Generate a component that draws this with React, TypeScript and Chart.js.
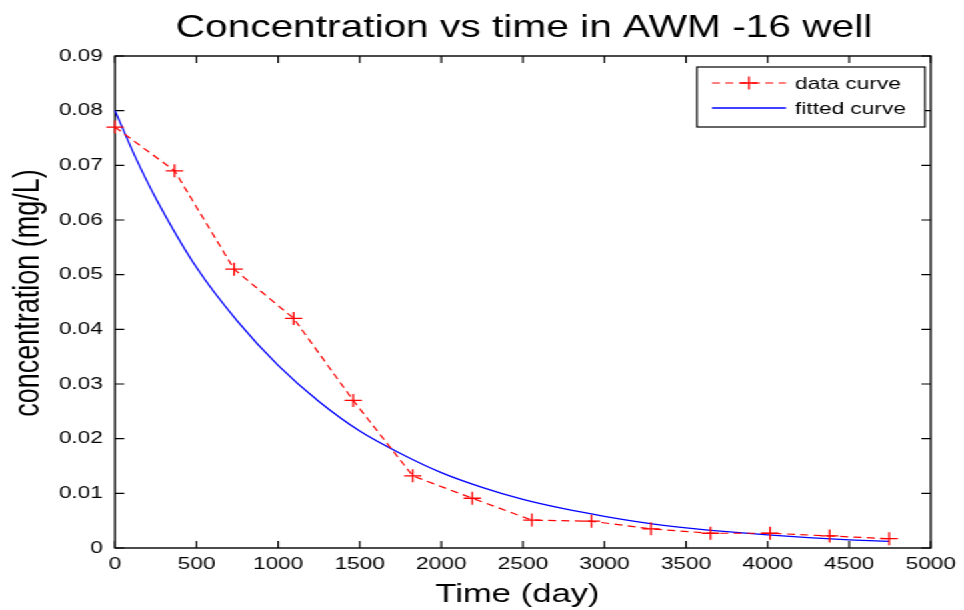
import React, { useEffect, useRef } from 'react';
import { Chart, registerables } from 'chart.js';

Chart.register(...registerables);

// ---------- data ----------
const chartTitle = 'Concentration vs time in AWM -16 well';
const xAxisTitle = 'Time (day)';
const yAxisTitle = 'concentration (mg/L)';
const seriesLabels = ['data curve', 'fitted curve'];

const dataDays = [0, 365, 730, 1095, 1460, 1825, 2190, 2555, 2920, 3285, 3650, 4015, 4380, 4745];
const dataConc = [0.077, 0.069, 0.051, 0.042, 0.027, 0.0132, 0.0091, 0.0051, 0.0049, 0.0035, 0.0027, 0.0027, 0.0022, 0.0017];

const fitDays = [0, 125, 250, 500, 750, 1000, 1250, 1500, 1750, 2000, 2250, 2500, 2750, 3000, 3250, 3500, 3750, 4000, 4250, 4500, 4745];
const fitConc = [0.08, 0.0715, 0.064, 0.0513, 0.0415, 0.0334, 0.0268, 0.0214, 0.0173, 0.0138, 0.0111, 0.0089, 0.0072, 0.0058, 0.0046, 0.0037, 0.003, 0.0024, 0.0019, 0.0015, 0.0012];

const xTickValues = [0, 500, 1000, 1500, 2000, 2500, 3000, 3500, 4000, 4500, 5000];
const yTickValues = [0, 0.01, 0.02, 0.03, 0.04, 0.05, 0.06, 0.07, 0.08, 0.09];
const yTickLabels = ['0', '0.01', '0.02', '0.03', '0.04', '0.05', '0.06', '0.07', '0.08', '0.09'];

// ---------- layout ----------
const W = 723;
const H = 610;
const STRETCH = 964 / W;
const FONT = "'Liberation Sans', Arial, sans-serif";
const RED = '#ff0000';
const BLUE = '#0000ff';

const framePlugin = {
  id: 'matlabFrame',
  beforeDatasetsDraw(chart: any) {
    const { ctx, chartArea: a, scales } = chart;
    ctx.save();
    ctx.strokeStyle = '#000';
    ctx.lineWidth = 1.4;
    ctx.setLineDash([]);
    ctx.strokeRect(a.left, a.top, a.right - a.left, a.bottom - a.top);
    ctx.lineWidth = 1.2;
    ctx.beginPath();
    const tl = 7;
    xTickValues.forEach((v) => {
      const px = scales.x.getPixelForValue(v);
      ctx.moveTo(px, a.bottom);
      ctx.lineTo(px, a.bottom - tl);
      ctx.moveTo(px, a.top);
      ctx.lineTo(px, a.top + tl);
    });
    yTickValues.forEach((v) => {
      const py = scales.y.getPixelForValue(v);
      ctx.moveTo(a.left, py);
      ctx.lineTo(a.left + tl, py);
      ctx.moveTo(a.right, py);
      ctx.lineTo(a.right - tl, py);
    });
    ctx.stroke();
    ctx.restore();
  },
  afterDraw(chart: any) {
    const { ctx } = chart;
    ctx.save();
    ctx.fillStyle = '#000';
    // title
    ctx.font = `30.5px ${FONT}`;
    ctx.textAlign = 'center';
    ctx.textBaseline = 'alphabetic';
    ctx.fillText(chartTitle, 524 / STRETCH, 37);
    // x title
    ctx.font = `26px ${FONT}`;
    ctx.fillText(xAxisTitle, 517.5 / STRETCH, 602);
    // y title
    ctx.save();
    ctx.translate(22, 293);
    ctx.rotate(-Math.PI / 2);
    ctx.font = `27px ${FONT}`;
    ctx.textBaseline = 'middle';
    ctx.fillText(yAxisTitle, 0, 0);
    ctx.restore();

    // legend
    const bx = 697 / STRETCH;
    const bx2 = 925 / STRETCH;
    const by = 67;
    const by2 = 127;
    ctx.fillStyle = '#fff';
    ctx.fillRect(bx, by, bx2 - bx, by2 - by);
    ctx.strokeStyle = '#000';
    ctx.lineWidth = 1.2;
    ctx.setLineDash([]);
    ctx.strokeRect(bx, by, bx2 - bx, by2 - by);
    const rows = [83, 108];
    const lx1 = 712 / STRETCH;
    const lx2 = 786 / STRETCH;
    const tx = 795 / STRETCH;
    chart.data.datasets.forEach((ds: any, i: number) => {
      const y = rows[i];
      ctx.strokeStyle = ds.borderColor;
      ctx.lineWidth = ds.borderWidth;
      ctx.setLineDash(ds.borderDash || []);
      ctx.beginPath();
      ctx.moveTo(lx1, y);
      ctx.lineTo(lx2, y);
      ctx.stroke();
      ctx.setLineDash([]);
      if (ds.pointRadius > 0) {
        const cx = (lx1 + lx2) / 2;
        const r = ds.pointRadius;
        ctx.lineWidth = ds.pointBorderWidth;
        ctx.beginPath();
        ctx.moveTo(cx - r, y);
        ctx.lineTo(cx + r, y);
        ctx.moveTo(cx, y - r);
        ctx.lineTo(cx, y + r);
        ctx.stroke();
      }
      ctx.fillStyle = '#000';
      ctx.font = `17px ${FONT}`;
      ctx.textAlign = 'left';
      ctx.textBaseline = 'middle';
      ctx.fillText(ds.label, tx, y + 1);
    });
    ctx.restore();
  },
};

export default function App() {
  const canvasRef = useRef<HTMLCanvasElement | null>(null);

  useEffect(() => {
    if (!canvasRef.current) return;
    document.body.style.margin = '0';
    const chart = new Chart(canvasRef.current, {
      type: 'scatter',
      data: {
        datasets: [
          {
            label: seriesLabels[0],
            data: dataDays.map((d, i) => ({ x: d, y: dataConc[i] })),
            showLine: true,
            borderColor: RED,
            backgroundColor: RED,
            borderWidth: 1.2,
            borderDash: [6, 4],
            pointStyle: 'cross',
            pointRadius: 6.5,
            pointBorderWidth: 1.3,
            pointBorderColor: RED,
            pointHoverRadius: 6.5,
            clip: false,
            order: 0,
          } as any,
          {
            label: seriesLabels[1],
            data: fitDays.map((d, i) => ({ x: d, y: fitConc[i] })),
            showLine: true,
            borderColor: BLUE,
            backgroundColor: BLUE,
            borderWidth: 1.3,
            pointRadius: 0,
            pointHoverRadius: 0,
            cubicInterpolationMode: 'monotone',
            clip: false,
            order: 1,
          } as any,
        ],
      },
      options: {
        responsive: false,
        animation: false,
        devicePixelRatio: 1,
        layout: { padding: { top: 56, right: W - 935 / STRETCH, left: 0, bottom: 0 } },
        plugins: {
          legend: { display: false },
          title: { display: false },
          tooltip: { enabled: false },
        },
        scales: {
          x: {
            type: 'linear',
            min: 0,
            max: 5000,
            grid: { display: false, drawTicks: false },
            border: { display: false },
            afterBuildTicks: (scale: any) => {
              scale.ticks = xTickValues.map((v) => ({ value: v }));
            },
            afterFit: (scale: any) => {
              scale.height = H - 548;
            },
            ticks: {
              autoSkip: false,
              maxRotation: 0,
              padding: 6,
              color: '#000',
              font: { family: FONT, size: 17 },
              callback: (v: any) => String(v),
            },
          },
          y: {
            type: 'linear',
            min: 0,
            max: 0.09,
            grid: { display: false, drawTicks: false },
            border: { display: false },
            afterBuildTicks: (scale: any) => {
              scale.ticks = yTickValues.map((v) => ({ value: v }));
            },
            afterFit: (scale: any) => {
              scale.width = 115 / STRETCH;
            },
            ticks: {
              autoSkip: false,
              padding: 9,
              color: '#000',
              font: { family: FONT, size: 17 },
              callback: (_v: any, i: number) => yTickLabels[i],
            },
          },
        },
      } as any,
      plugins: [framePlugin],
    });
    return () => chart.destroy();
  }, []);

  return (
    <div
      style={{
        position: 'absolute',
        left: 0,
        top: 0,
        width: W,
        height: H,
        transform: `scaleX(${STRETCH})`,
        transformOrigin: '0 0',
        background: '#fff',
      }}
    >
      <canvas ref={canvasRef} width={W} height={H} style={{ display: 'block' }} />
    </div>
  );
}
